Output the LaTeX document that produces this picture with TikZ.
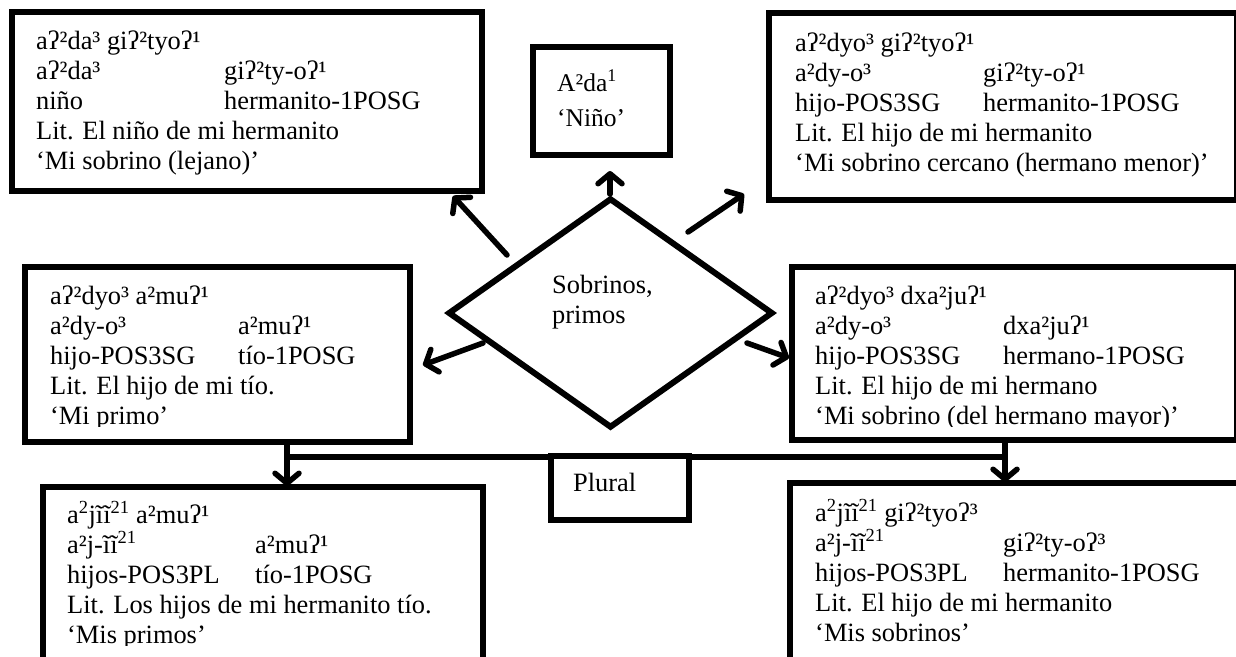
\documentclass[tikz,border=0pt]{standalone}
\usepackage{fontspec}
\setmainfont{Liberation Serif}
\usetikzlibrary{arrows.meta,shapes.geometric,shadows}

% one gloss line: first column of fixed width, then the second column
\newcommand\twocol[2]{\makebox[188pt][l]{#1}#2}
% a stack of lines whose baseline is the baseline of the first line
\newcommand\glines[1]{\vtop{#1}}
\newcommand\sx[1]{\textsuperscript{#1}}

\tikzset{
  box/.style={draw, line width=6pt, fill=white, inner sep=0pt,
    drop shadow={shadow xshift=2pt, shadow yshift=-3pt, opacity=0.22}},
  txt/.style={anchor=base west, inner sep=0pt,
    font=\fontsize{26.4pt}{30pt}\selectfont},
  conn/.style={line width=5.5pt},
  arr/.style={line width=5.5pt, line cap=round,
    -{Straight Barb[length=10pt,width=24pt,round]}},
}

\begin{document}
\begin{tikzpicture}[x=1pt,y=-1pt]
  \useasboundingbox (0,0) rectangle (1236,656);
  \fill[white] (0,0) rectangle (1236,656);
  \clip (0,0) rectangle (1236,656);

  % ---------- boxes ----------
  \node[box, minimum width=470pt, minimum height=179pt] (tl) at (247,101.5) {};
  \node[box, minimum width=137pt, minimum height=108pt] (nino) at (601.5,101) {};
  \node[box, minimum width=468pt, minimum height=187pt] (tr) at (1003,106.5) {};
  \node[box, minimum width=385pt, minimum height=175pt] (ml) at (217.5,354.5) {};
  \node[box, minimum width=445pt, minimum height=173pt] (mr) at (1014.5,353.5) {};
  \node[box, minimum width=440pt, minimum height=213pt] (bl) at (263,593.5) {};
  \node[box, minimum width=470pt, minimum height=217pt] (br) at (1025,591.5) {};

  % ---------- central diamond ----------
  \node[draw, diamond, line width=6pt, fill=white, inner sep=0pt,
        minimum width=325pt, minimum height=230pt] (dia) at (610.5,313) {};
  \node[txt] (diatxt) at (552,293) {\glines{\hbox{Sobrinos,}\hbox{primos}}};

  % ---------- texts ----------
  \node[txt] (tltxt) at (36,49) {\glines{
    \hbox{aʔ²da³ giʔ²tyoʔ¹}
    \hbox{\twocol{aʔ²da³}{giʔ²ty-oʔ¹}}
    \hbox{\twocol{niño}{hermanito-1POSG}}
    \hbox{Lit. El niño de mi hermanito}
    \hbox{‘Mi sobrino (lejano)’}}};

  \node[txt, font=\fontsize{25.5pt}{35pt}\selectfont] (ninotxt) at (557,91)
    {\glines{\hbox{A²da\sx{1}}\hbox{‘Niño’}}};

  \node[txt] (trtxt) at (795,51) {\glines{
    \hbox{aʔ²dyo³ giʔ²tyoʔ¹}
    \hbox{\twocol{a²dy-o³}{giʔ²ty-oʔ¹}}
    \hbox{\twocol{hijo-POS3SG}{hermanito-1POSG}}
    \hbox{Lit. El hijo de mi hermanito}
    \hbox{‘Mi sobrino cercano (hermano menor)’}}};

  \begin{scope}
    \clip (30,270) rectangle (405,426);
    \node[txt] (mltxt) at (50,304) {\glines{
      \hbox{aʔ²dyo³ a²muʔ¹}
      \hbox{\twocol{a²dy-o³}{a²muʔ¹}}
      \hbox{\twocol{hijo-POS3SG}{tío-1POSG}}
      \hbox{Lit. El hijo de mi tío.}
      \hbox{‘Mi primo’}}};
  \end{scope}

  \begin{scope}
    \clip (797,270) rectangle (1236,426);
    \node[txt] (mrtxt) at (815,304) {\glines{
      \hbox{aʔ²dyo³ dxa²juʔ¹}
      \hbox{\twocol{a²dy-o³}{dxa²juʔ¹}}
      \hbox{\twocol{hijo-POS3SG}{hermano-1POSG}}
      \hbox{Lit. El hijo de mi hermano}
      \hbox{‘Mi sobrino (del hermano mayor)’}}};
  \end{scope}

  \begin{scope}
    \clip (48,490) rectangle (478,645);
    \node[txt] (bltxt) at (67,523) {\glines{
      \hbox{a\sx{2}jĩĩ\sx{21} a²muʔ¹}
      \hbox{\twocol{a²j-ĩĩ\sx{21}}{a²muʔ¹}}
      \hbox{\twocol{hijos-POS3PL}{tío-1POSG}}
      \hbox{Lit. Los hijos de mi hermanito tío.}
      \hbox{‘Mis primos’}}};
  \end{scope}

  \node[txt] (brtxt) at (815,521) {\glines{
    \hbox{a\sx{2}jĩĩ\sx{21} giʔ²tyoʔ³}
    \hbox{\twocol{a²j-ĩĩ\sx{21}}{giʔ²ty-oʔ³}}
    \hbox{\twocol{hijos-POS3PL}{hermanito-1POSG}}
    \hbox{Lit. El hijo de mi hermanito}
    \hbox{‘Mis sobrinos’}}};

  % ---------- arrows out of the diamond ----------
  \coordinate (upS) at (610,194);  \coordinate (upE) at (610,171);
  \coordinate (tlS) at (507,255);  \coordinate (tlE) at (453,196);
  \coordinate (trS) at (688,232);  \coordinate (trE) at (744,194);
  \coordinate (mlS) at (483,343);  \coordinate (mlE) at (423,365);
  \coordinate (mrS) at (747,343);  \coordinate (mrE) at (789,358);
  \draw[arr] (upS) -- (upE);
  \draw[arr] (tlS) -- (tlE);
  \draw[arr] (trS) -- (trE);
  \draw[arr] (mlS) -- (mlE);
  \draw[arr] (mrS) -- (mrE);

  % ---------- plural connectors ----------
  \coordinate (busl) at (287,457);
  \coordinate (busr) at (1005,457);
  \draw[conn] (ml.south -| busl) -- (busl) -- (busr) -- (mr.south -| busr);
  \draw[arr] (busl) -- ([yshift=-2pt]bl.north -| busl);
  \draw[arr] (busr) -- ([yshift=-2pt]br.north -| busr);

  \node[box, minimum width=138pt, minimum height=64pt] (plural) at (620,488) {};
  \node[txt] (pluraltxt) at (573,491) {Plural};
\end{tikzpicture}
\end{document}
